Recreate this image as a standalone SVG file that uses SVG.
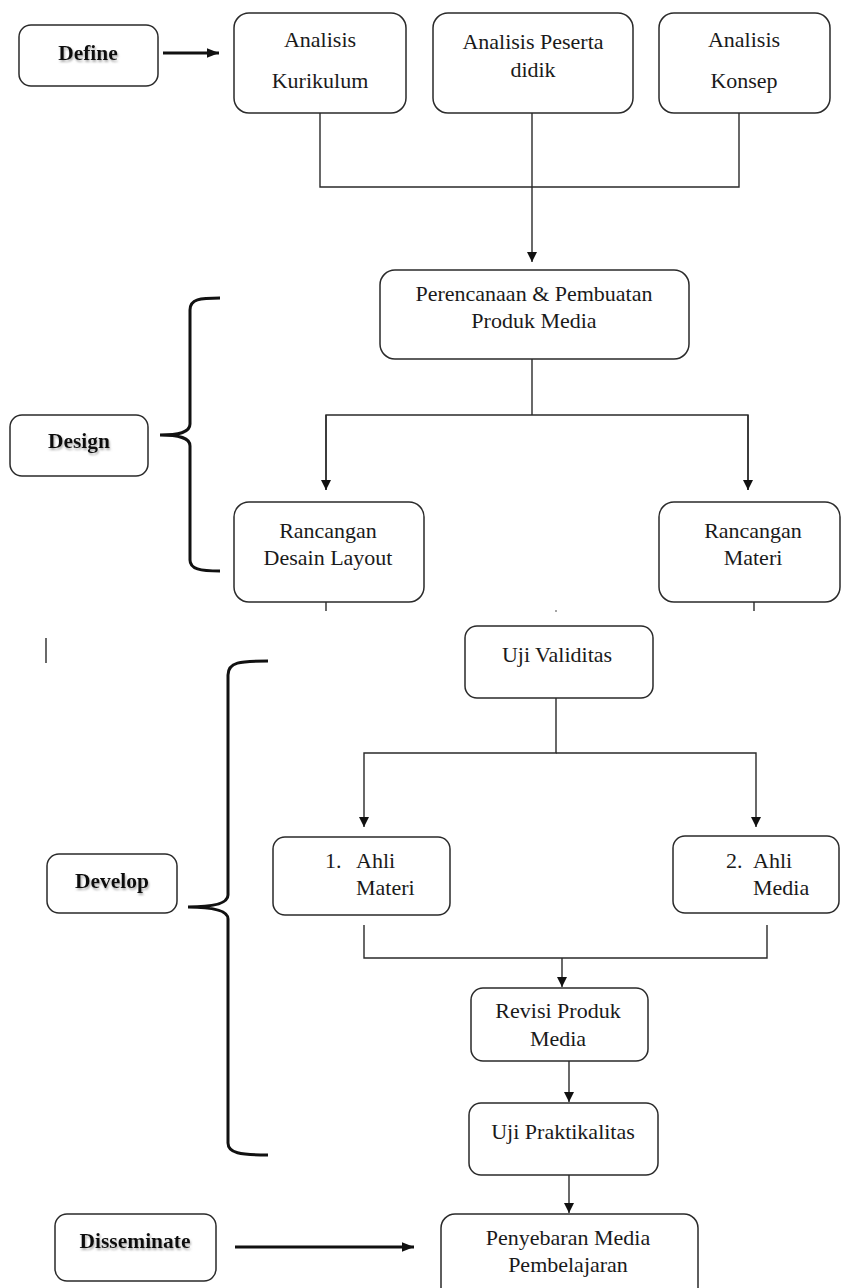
<svg xmlns="http://www.w3.org/2000/svg" width="841" height="1288" viewBox="0 0 841 1288">
<style>
.box{fill:#fff;stroke:#2a2a2a;stroke-width:1.5}
.t{font-family:"Liberation Serif","Times New Roman",serif;font-size:22px;fill:#1a1a1a;text-anchor:middle}
.tl{font-family:"Liberation Serif","Times New Roman",serif;font-size:22px;fill:#1a1a1a}
.b{font-family:"Liberation Serif","Times New Roman",serif;font-size:21.5px;font-weight:bold;fill:#111;text-anchor:middle;filter:url(#sh)}
.ln{fill:none;stroke:#2a2a2a;stroke-width:1.4}
.thick{fill:none;stroke:#111;stroke-width:3}
.brace{fill:none;stroke:#111;stroke-width:3}
</style>
<defs>
<filter id="sh" x="-10%" y="-30%" width="130%" height="170%">
<feDropShadow dx="1" dy="2" stdDeviation="1" flood-color="#777" flood-opacity="0.6"/>
</filter>
<marker id="ah" viewBox="0 0 10 10" refX="10" refY="5" markerWidth="10" markerHeight="10" markerUnits="userSpaceOnUse" orient="auto">
<path d="M0,0 L10,5 L0,10 Z" fill="#111"/>
</marker>
<marker id="ahb" viewBox="0 0 10 10" refX="10" refY="5" markerWidth="12" markerHeight="12" markerUnits="userSpaceOnUse" orient="auto">
<path d="M0,1 L10,5 L0,9 Z" fill="#111"/>
</marker>
</defs>
<rect width="841" height="1288" fill="#fff"/>

<g id="connectors">
<path class="thick" d="M163,53 H219" marker-end="url(#ahb)"/>
<path class="ln" d="M320,113 V187 H739 V113"/>
<path class="ln" d="M532,113 V262" marker-end="url(#ah)"/>
<path class="ln" d="M532,359 V415"/>
<path class="ln" d="M326,490 V415 H748 V490" />
<path class="ln" d="M326,415 V490" marker-end="url(#ah)"/>
<path class="ln" d="M748,415 V490" marker-end="url(#ah)"/>
<path class="ln" d="M326,602 V611"/>
<path class="ln" d="M754,602 V611"/>
<path class="ln" d="M556,698 V753 H364 V827" marker-end="url(#ah)"/>
<path class="ln" d="M556,753 H756 V827" marker-end="url(#ah)"/>
<path class="ln" d="M364,925 V958 H767 V925"/>
<path class="ln" d="M562,958 V987" marker-end="url(#ah)"/>
<path class="ln" d="M569,1061 V1102" marker-end="url(#ah)"/>
<path class="ln" d="M569,1175 V1213" marker-end="url(#ah)"/>
<path class="thick" d="M235,1247 H414" marker-end="url(#ahb)"/>
<path class="ln" d="M46,638 V663" stroke-width="1.2"/>
<circle cx="556" cy="611" r="0.8" fill="#333"/>
</g>

<g id="brace-design"><path class="brace" d="M220,298 C200,298 190,299 190,310 L190,424 C190,432 180,435 160,435 C180,435 190,438 190,446 L190,560 C190,569 200,571 220,571"/></g>
<g id="brace-develop"><path class="brace" d="M268,661 C240,661 228,662 228,675 L228,895 C228,903 215,907 188,907 C215,907 228,911 228,919 L228,1143 C228,1153 240,1155 268,1155"/></g>

<g id="define"><rect class="box" x="19" y="25" width="139" height="61" rx="12"/><text class="b" x="88" y="60">Define</text></g>
<g id="analisis-kurikulum"><rect class="box" x="234" y="13" width="172" height="100" rx="15"/><text class="t" x="320" y="47">Analisis</text><text class="t" x="320" y="88">Kurikulum</text></g>
<g id="analisis-peserta"><rect class="box" x="433" y="13" width="200" height="100" rx="15"/><text class="t" x="533" y="49">Analisis Peserta</text><text class="t" x="533" y="77">didik</text></g>
<g id="analisis-konsep"><rect class="box" x="659" y="13" width="171" height="100" rx="15"/><text class="t" x="744" y="47">Analisis</text><text class="t" x="744" y="88">Konsep</text></g>

<g id="perencanaan"><rect class="box" x="380" y="270" width="309" height="89" rx="15"/><text class="t" x="534" y="301">Perencanaan &amp; Pembuatan</text><text class="t" x="534" y="328">Produk Media</text></g>
<g id="design"><rect class="box" x="10" y="415" width="138" height="61" rx="12"/><text class="b" x="79" y="448">Design</text></g>
<g id="rancangan-desain"><rect class="box" x="234" y="502" width="190" height="100" rx="15"/><text class="t" x="328" y="538">Rancangan</text><text class="t" x="328" y="565">Desain Layout</text></g>
<g id="rancangan-materi"><rect class="box" x="659" y="502" width="181" height="100" rx="15"/><text class="t" x="753" y="538">Rancangan</text><text class="t" x="753" y="565">Materi</text></g>

<g id="uji-validitas"><rect class="box" x="465" y="626" width="188" height="72" rx="12"/><text class="t" x="557" y="662">Uji Validitas</text></g>
<g id="develop"><rect class="box" x="47" y="854" width="130" height="59" rx="12"/><text class="b" x="112" y="888">Develop</text></g>
<g id="ahli-materi"><rect class="box" x="273" y="837" width="177" height="78" rx="12"/><text class="tl" x="325" y="868">1.</text><text class="tl" x="356" y="868">Ahli</text><text class="tl" x="356" y="895">Materi</text></g>
<g id="ahli-media"><rect class="box" x="673" y="836" width="166" height="77" rx="12"/><text class="tl" x="726" y="868">2.</text><text class="tl" x="753" y="868">Ahli</text><text class="tl" x="753" y="895">Media</text></g>

<g id="revisi"><rect class="box" x="471" y="988" width="177" height="73" rx="12"/><text class="t" x="558" y="1018">Revisi Produk</text><text class="t" x="558" y="1046">Media</text></g>
<g id="uji-praktikalitas"><rect class="box" x="469" y="1103" width="189" height="72" rx="12"/><text class="t" x="563" y="1139">Uji Praktikalitas</text></g>
<g id="disseminate"><rect class="box" x="55" y="1214" width="161" height="67" rx="12"/><text class="b" x="135" y="1248">Disseminate</text></g>
<g id="penyebaran"><rect class="box" x="441" y="1214" width="257" height="90" rx="14"/><text class="t" x="568" y="1245">Penyebaran Media</text><text class="t" x="568" y="1272">Pembelajaran</text></g>
</svg>
